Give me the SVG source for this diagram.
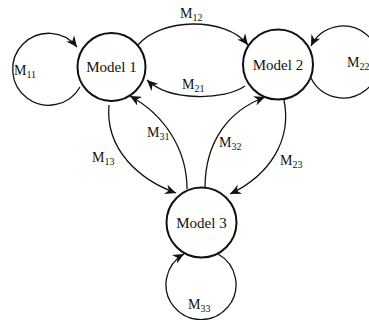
<svg xmlns="http://www.w3.org/2000/svg" width="369" height="320" viewBox="0 0 369 320">
<defs>
<marker id="ah" markerUnits="userSpaceOnUse" markerWidth="12" markerHeight="10" refX="11" refY="5" orient="auto">
<path d="M0,0 L11,5 L0,10 L3.5,5 z" fill="#111"/>
</marker>
</defs>
<style>
.node{fill:#fff;stroke:#111;stroke-width:2}
.edge{fill:none;stroke:#111;stroke-width:1.3;marker-end:url(#ah)}
.nt{font-family:"Liberation Serif",serif;font-size:15px;fill:#111;text-anchor:middle}
.lb{font-family:"Liberation Serif",serif;font-size:14px;fill:#111}
.sb{font-size:10px}
</style>
<rect width="369" height="320" fill="#fff"/>
<g id="connectors">
<path class="edge" d="M80,87 A36,36 0 1 1 77,47"/>
<path class="edge" d="M311,78 A36,36 0 1 0 311,46"/>
<path class="edge" d="M218,254 A35,35 0 1 1 184,254"/>
<path class="edge" d="M138,45 C160,18 225,16 248,45"/>
<path class="edge" d="M245,86 C225,100 170,102 147,80"/>
<path class="edge" d="M109,105 C105,150 140,180 176,193"/>
<path class="edge" d="M187,189 C187,150 165,115 130,96"/>
<path class="edge" d="M205,188 C205,140 230,110 265,97"/>
<path class="edge" d="M284,100 C292,140 270,175 230,194"/>
</g>
<g id="labels">
<text class="lb" x="14" y="75">M<tspan class="sb" dy="3">11</tspan></text>
<text class="lb" x="180" y="18">M<tspan class="sb" dy="3">12</tspan></text>
<text class="lb" x="182" y="89">M<tspan class="sb" dy="3">21</tspan></text>
<text class="lb" x="347" y="67">M<tspan class="sb" dy="3">22</tspan></text>
<text class="lb" x="92" y="162">M<tspan class="sb" dy="3">13</tspan></text>
<text class="lb" x="147" y="137">M<tspan class="sb" dy="3">31</tspan></text>
<text class="lb" x="219" y="147">M<tspan class="sb" dy="3">32</tspan></text>
<text class="lb" x="280" y="165">M<tspan class="sb" dy="3">23</tspan></text>
<text class="lb" x="188" y="309">M<tspan class="sb" dy="3">33</tspan></text>
</g>
<g id="model1">
<circle class="node" cx="111.5" cy="67" r="34"/>
<text class="nt" x="111.5" y="72">Model 1</text>
</g>
<g id="model2">
<circle class="node" cx="278" cy="64.5" r="35"/>
<text class="nt" x="278" y="70">Model 2</text>
</g>
<g id="model3">
<circle class="node" cx="201.5" cy="222.5" r="35"/>
<text class="nt" x="201.5" y="227.5">Model 3</text>
</g>
</svg>
